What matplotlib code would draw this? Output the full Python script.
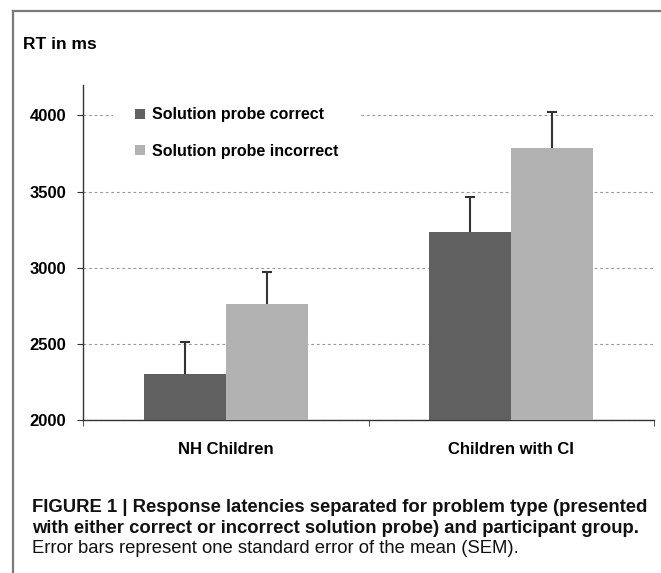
import matplotlib
matplotlib.use("Agg")
import matplotlib.pyplot as plt
from matplotlib import font_manager
from matplotlib.patches import Patch
from matplotlib.lines import Line2D
import numpy as np

groups = ["NH Children", "Children with CI"]
series = ["Solution probe correct", "Solution probe incorrect"]
rt_correct = [2305, 3235]
rt_incorrect = [2765, 3787]
sem_correct = [210, 230]
sem_incorrect = [205, 238]
yticks = [2000, 2500, 3000, 3500, 4000]

caption_lines = [
    "FIGURE 1 | Response latencies separated for problem type (presented",
    "with either correct or incorrect solution probe) and participant group.",
    "Error bars represent one standard error of the mean (SEM).",
]

dark = "#606060"
light = "#b2b2b2"

avail = {f.name for f in font_manager.fontManager.ttflist}
base = "Liberation Sans" if "Liberation Sans" in avail else "DejaVu Sans"
narrow = "Liberation Sans Narrow" if "Liberation Sans Narrow" in avail else base
plt.rcParams["font.family"] = [base, "DejaVu Sans"]

W, H = 661, 573
fig = plt.figure(figsize=(W / 100, H / 100), dpi=100)

# frame around the figure (top and left edges visible)
fig.add_artist(Line2D([13.5 / W, 1], [1 - 11 / H, 1 - 11 / H], color="#7a7a7a", lw=1.6))
fig.add_artist(Line2D([13.5 / W, 13.5 / W], [0, 1 - 11 / H], color="#7a7a7a", lw=1.6))

ax = fig.add_axes([83 / W, (H - 420) / H, (654 - 83) / W, (420 - 85) / H])

x = np.arange(len(groups))
w = 0.287
ax.bar(x - w / 2, rt_correct, w, color=dark, zorder=3)
ax.bar(x + w / 2, rt_incorrect, w, color=light, zorder=3)
for xs, vals, errs in [(x - w / 2, rt_correct, sem_correct), (x + w / 2, rt_incorrect, sem_incorrect)]:
    eb = ax.errorbar(xs, vals, yerr=[np.zeros(2), errs], fmt="none",
                     ecolor="#333333", elinewidth=1.5, capsize=3.5, capthick=1.5, zorder=4)
    eb[1][0].set_visible(False)  # drop the lower cap

ax.set_xlim(-0.5, 1.5)
ax.set_ylim(2000, 4200)
ax.set_yticks(yticks)
ax.set_yticklabels([str(v) for v in yticks], fontsize=12, fontweight="bold")
ax.set_xticks(x)
ax.set_xticklabels(groups, fontsize=12, fontweight="bold")
ax.set_xticks([-0.5, 0.5, 1.5], minor=True)
ax.tick_params(axis="x", which="major", length=0, pad=16)
ax.tick_params(axis="x", which="minor", length=4, direction="out", color="#333333")
ax.tick_params(axis="y", length=4, direction="out", pad=8, color="#333333")

for s in ["top", "right"]:
    ax.spines[s].set_visible(False)
for s in ["left", "bottom"]:
    ax.spines[s].set_color("#333333")
    ax.spines[s].set_linewidth(1.0)

ax.yaxis.grid(True, linestyle=(0, (2.5, 2.5)), color="#999999", linewidth=0.8, zorder=0)
ax.set_axisbelow(True)

handles = [Patch(facecolor=dark, edgecolor="none"), Patch(facecolor=light, edgecolor="none")]
leg = ax.legend(handles, series, loc="upper left", bbox_to_anchor=(0.052, 1.0),
                prop={"size": 11.5, "weight": "bold"}, frameon=True, fancybox=False,
                edgecolor="none", facecolor="white", framealpha=1,
                handlelength=0.6, handleheight=0.6, handletextpad=0.45,
                labelspacing=1.35, borderpad=1.4, borderaxespad=0)
leg.set_zorder(5)

fig.text(23 / W, 1 - 49 / H, "RT in ms", fontsize=12.5, fontweight="bold",
         ha="left", va="baseline")

# caption
baselines = [512, 533, 553]
weights = ["bold", "bold", "normal"]
caps = []
for line, yb, wt in zip(caption_lines, baselines, weights):
    t = fig.text(32 / W, 1 - yb / H, line, fontsize=13, fontweight=wt,
                 family=[narrow, "DejaVu Sans"], ha="left", va="baseline", color="#111111")
    caps.append(t)

fig.canvas.draw()
r = fig.canvas.get_renderer()
wid = caps[0].get_window_extent(r).width
scale = 616 / wid
for t in caps:
    t.set_fontsize(13 * scale)

fig.savefig("out.png", dpi=100, facecolor="white")
